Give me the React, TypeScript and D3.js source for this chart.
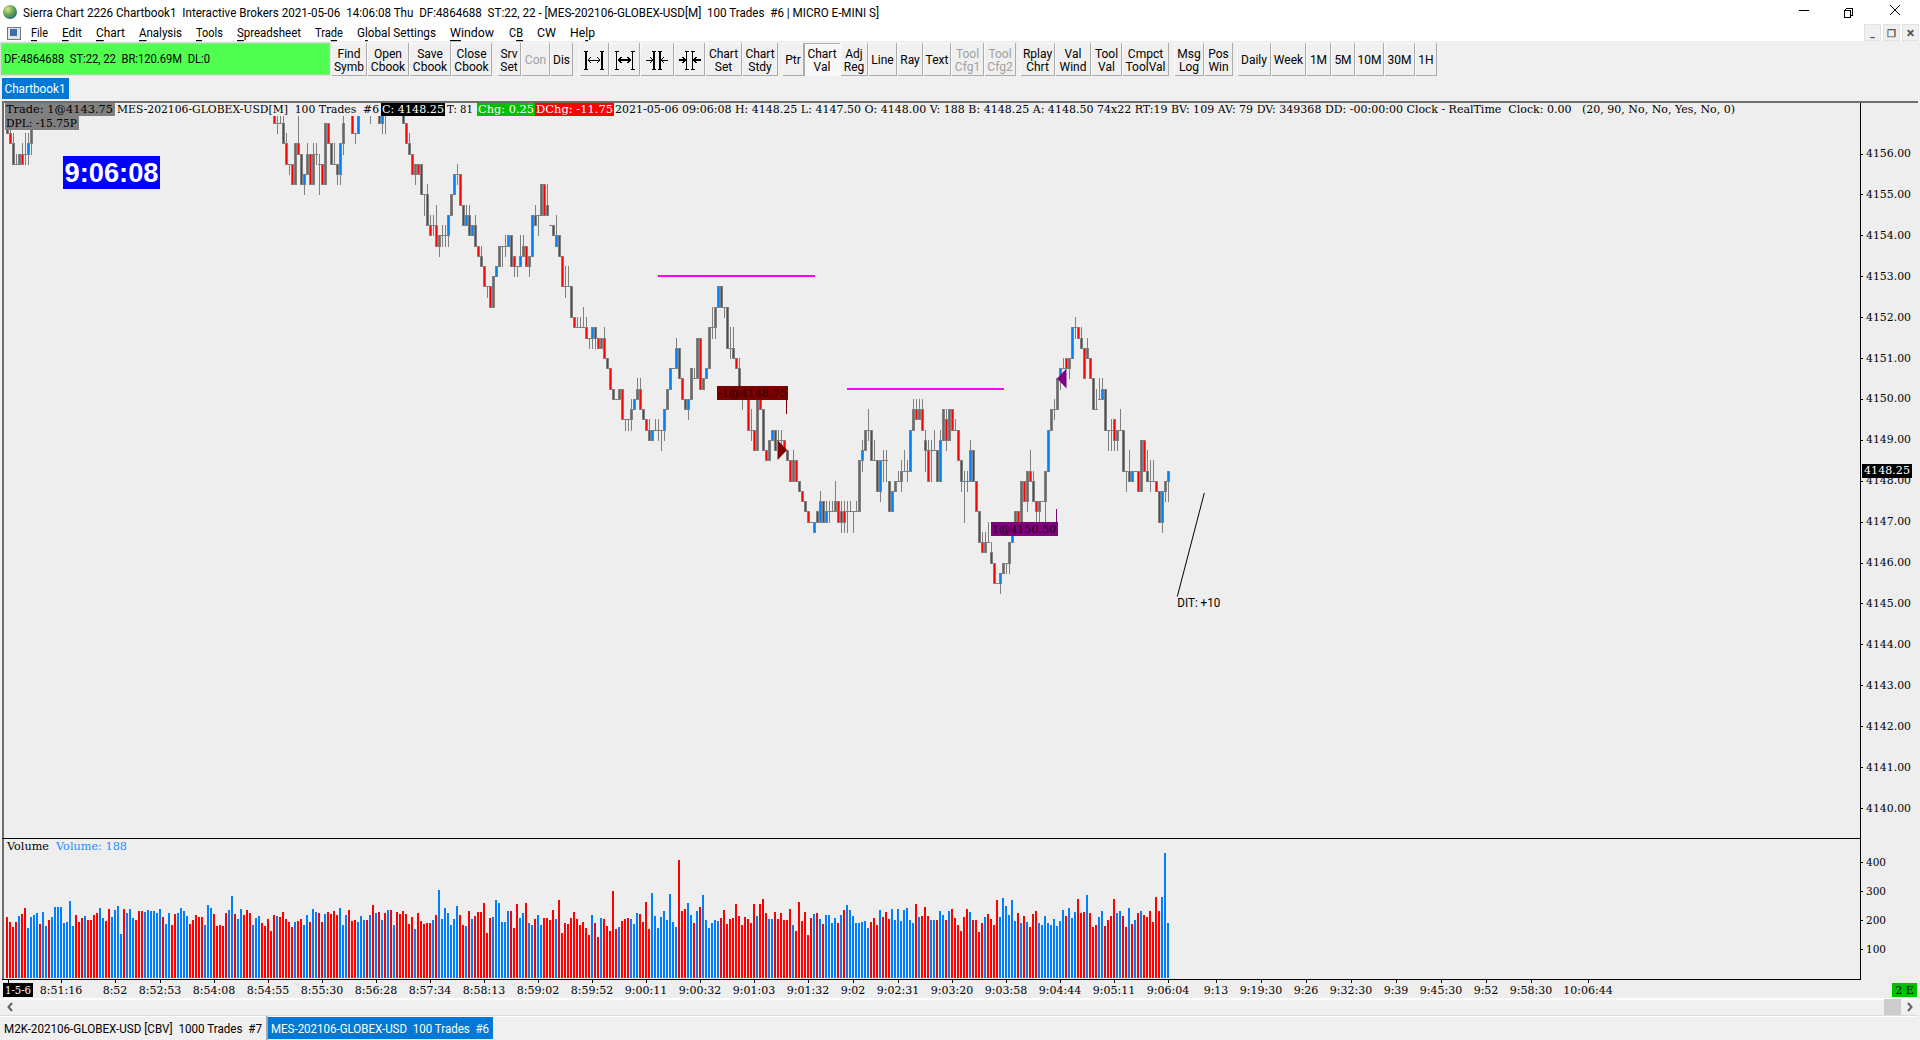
import React from "react";
import * as d3 from "d3";

// ---------- values ----------
const priceLabels = [4156, 4155, 4154, 4153, 4152, 4151, 4150, 4149, 4148, 4147, 4146, 4145, 4144, 4143, 4142, 4141, 4140];
const volumeLabels = [400, 300, 200, 100];
const lastPrice = 4148.25;

// Prices are stored as ticks of 0.25 below 4156.00. Rows: open, high, low, close
const REF_PRICE = 4156;
const TICK = 0.25;
const earlyBars: number[][] = [
  [-3,-4,-2,-2],[-2,-3,-1,-1],[-1,-2,1,1],[1,0,1,1],[1,0,1,0],[0,-1,1,1],[0,-2,1,0],[0,-2,1,-1],[-1,-2,0,-3],
];
const laterBarsStart = 89;
const laterBars: number[][] = [
  [-5,-7,-3,-3],[-3,-5,-2,-3],[-3,-4,-3,-3],[-3,-5,-1,-1],[-1,-2,1,1],[1,1,2,1],[1,1,3,3],[3,3,3,-1],[-1,-4,0,0],[0,0,3,3],
  [3,2,4,2],[2,-1,2,0],[0,0,3,3],[3,-1,3,0],[0,-1,1,0],[1,0,4,1],[1,1,3,3],[3,3,3,-3],[-3,-3,-1,-1],[-1,-1,1,1],
  [1,-1,1,1],[1,1,3,2],[2,2,3,-1],[-1,-4,0,-3],[-7,-8,-6,-7],[-7,-8,-6,-6],[-5,-6,-2,-2],[-2,-2,-1,-2],[-2,-2,-2,-5],[-7,-8,-6,-7],
  [-7,-8,-6,-7],[-7,-8,-6,-7],[-6,-7,-3,-6],[-7,-8,-6,-7],[-7,-8,-6,-7],[-5,-7,-3,-3],[-3,-3,-2,-5],[-5,-6,-2,-5],[-7,-8,-6,-7],[-7,-8,-6,-7],
  [-7,-8,-6,-7],[-7,-8,-6,-7],[-7,-8,-6,-7],[-5,-6,-3,-3],[-3,-3,-1,-1],[-1,-2,0,0],[0,0,2,2],[2,2,3,1],[1,1,2,2],[1,1,4,4],
  [4,4,6,4],[4,3,7,7],[7,6,8,8],[7,6,8,7],[7,5,9,9],[9,8,10,8],[8,7,9,8],[8,7,9,8],[8,6,9,6],[6,4,6,4],
  [4,2,4,2],[2,1,3,2],[2,2,5,5],[5,5,7,7],[7,5,7,6],[6,5,8,8],[8,7,8,7],[7,6,9,9],[9,9,10,10],[10,9,11,11],
  [11,11,13,13],[13,13,14,13],[13,13,15,15],[15,12,15,12],[12,11,12,11],[11,9,11,9],[9,9,11,9],[9,8,10,9],[9,8,9,8],[8,8,11,11],
  [10,10,12,11],[11,11,12,11],[11,8,11,10],[10,8,10,9],[9,9,11,11],[11,10,12,10],[10,6,10,6],[6,5,7,7],[6,6,8,6],[6,3,6,3],
  [3,3,6,6],[5,3,6,6],[7,7,7,7],[7,7,8,8],[9,6,9,8],[8,8,10,10],[10,10,13,13],[13,11,14,13],[13,11,13,13],[13,13,16,16],
  [16,16,17,17],[17,16,17,17],[17,16,17,17],[17,15,17,17],[17,16,18,18],[18,18,19,18],[18,17,19,17],[17,17,19,18],[18,18,19,19],[19,19,19,18],
  [18,17,20,20],[20,20,21,21],[21,21,23,23],[23,23,24,24],[24,24,24,24],[24,24,24,23],[23,23,26,26],[26,26,27,26],[26,26,27,26],[26,24,27,25],
  [25,24,25,24],[24,22,24,23],[23,22,25,25],[25,25,26,26],[26,26,27,27],[27,26,28,28],[28,27,28,27],[27,26,27,27],[27,26,28,27],[27,27,29,27],
  [27,27,28,25],[25,25,25,23],[23,23,23,21],[21,21,21,21],[21,18,21,19],[19,19,22,22],[22,22,24,24],[24,24,25,25],[25,25,26,24],[24,24,24,21],
  [22,21,22,22],[22,18,22,18],[18,18,23,23],[23,23,23,22],[22,22,22,21],[21,21,21,17],[17,15,18,17],[17,15,18,15],[15,13,15,13],[13,13,15,15],
  [15,15,16,15],[15,15,19,19],[19,17,20,19],[19,17,20,20],[20,20,21,21],[21,20,23,23],[23,23,25,23],[23,23,24,24],[24,24,27,27],[27,25,28,27],
  [27,27,29,29],[29,23,29,24],[24,23,25,25],[25,25,29,29],[29,29,30,30],[30,28,30,28],[28,27,28,27],[27,27,29,29],[28,27,28,28],[28,27,29,28],
  [28,28,29,29],[29,29,30,30],[30,30,32,32],[32,29,32,30],[30,30,32,32],[32,32,33,33],[33,33,34,34],[34,34,35,35],[35,35,36,36],[36,36,36,36],
  [37,36,37,36],[35,35,36,36],[36,33,36,34],[34,34,36,36],[36,34,36,35],[35,34,36,35],[35,34,35,35],[35,32,35,34],[34,34,36,36],[35,34,37,36],
  [35,34,37,36],[35,34,37,35],[35,34,35,35],[35,35,37,35],[35,34,35,35],[35,30,35,30],[30,28,31,29],[29,27,29,27],[27,25,28,27],[27,27,30,30],
  [30,28,30,30],[30,30,33,33],[33,30,34,30],[30,29,32,30],[30,29,32,30],[32,32,35,35],[35,35,35,33],[33,32,33,32],[32,31,32,32],[32,30,33,31],
  [31,29,31,31],[31,30,32,31],[31,31,31,27],[27,24,27,25],[25,24,26,26],[26,24,26,25],[25,24,27,27],[28,27,31,29],[29,28,32,32],[29,28,32,29],
  [29,27,29,29],[29,29,32,32],[32,27,32,28],[28,28,28,25],[26,25,29,28],[28,25,28,25],[25,25,27,27],[27,26,27,27],[27,27,30,30],[30,30,33,32],
  [32,31,36,32],[32,31,33,32],[32,28,32,29],[29,29,32,32],[32,32,35,35],[35,35,38,38],[38,37,39,39],[39,37,39,38],[38,36,38,38],[39,38,40,40],
  [40,40,42,42],[42,42,42,42],[42,42,43,41],[41,40,41,40],[40,40,41,40],[40,38,41,38],[38,36,38,36],[36,35,37,35],[35,35,37,37],[37,34,37,32],
  [32,32,34,34],[34,31,35,31],[31,29,32,32],[32,31,34,34],[34,34,36,35],[35,34,36,34],[34,34,34,34],[34,31,36,31],[31,31,31,27],[27,27,27,25],
  [25,24,26,25],[25,25,25,22],[22,22,23,21],[21,20,21,21],[20,20,21,21],[21,20,22,20],[20,20,20,17],[17,16,18,17],[17,17,18,18],[18,17,19,19],
  [19,19,22,22],[20,18,20,19],[20,20,22,22],[22,22,25,25],[25,23,25,25],[24,22,24,24],[24,22,24,23],[23,23,27,27],[27,27,29,27],[27,26,29,27],
  [26,26,29,28],[28,28,29,27],[27,25,27,27],[27,27,31,31],[31,31,33,31],[31,29,32,32],[32,31,32,31],[31,31,31,31],[31,31,33,33],[33,28,33,28],
  [28,28,31,31],[31,29,32,32],[32,30,33,32],[32,30,32,32],[32,32,33,33],[33,33,36,36],[36,33,37,33],[33,32,34,32],[32,31,34,31],
];

const volumes = [
  210,193,176,193,214,221,241,172,210,217, 224,186,228,179,200,210,245,245,245,190,
  193,266,179,217,193,207,214,200,200,217, 224,241,207,197,238,210,234,248,152,238,
  224,238,207,200,231,231,228,234,231,231, 224,238,210,186,224,183,221,224,241,231,
  214,186,200,217,210,210,183,252,241,221, 179,183,179,224,234,283,221,203,238,217,
  234,224,183,207,214,190,179,203,162,217, 214,210,228,203,193,176,193,197,203,183,
  217,193,238,228,224,193,221,228,221,231, 217,241,183,217,234,197,200,193,214,200,
  200,217,252,224,228,200,224,234,234,183, 228,221,231,221,186,210,169,224,197,186,
  190,190,200,217,303,203,241,224,183,203, 248,217,183,179,231,203,214,228,228,259,
  155,207,210,269,259,193,193,231,231,172, 255,207,224,259,190,183,203,217,183,207,
  207,200,234,203,269,155,190,186,207,228, 203,183,193,172,148,217,190,141,207,203,
  179,162,300,169,176,197,203,207,203,186, 224,221,193,262,169,293,214,172,210,231,
  200,290,193,176,407,231,238,259,217,190, 231,245,286,200,172,190,200,197,207,234,
  186,203,207,255,214,183,210,203,190,255, 214,255,272,224,203,203,228,203,224,200,
  200,238,183,162,262,197,228,148,207,221, 224,203,186,217,217,190,207,190,217,234,
  252,234,214,190,190,193,197,172,193,207, 183,234,210,228,203,238,200,238,197,234,
  241,200,190,255,210,214,245,214,200,200, 200,231,217,200,231,238,207,183,162,210,
  238,228,200,200,159,190,210,221,203,183, 269,210,276,248,217,269,197,224,190,214,
  193,176,221,231,190,183,214,190,183,203, 179,197,234,214,241,207,228,272,224,228,
  286,224,176,183,210,231,179,200,214,272, 224,231,214,176,241,186,200,224,231,217,
  210,231,193,279,231,279,431,188,
];
const volumeSides = [
  "rrrrbrrbbb","brbbrbbbbb","bbbrrrbrrr","rbbrrbbbbr","bbbrrrbbbb","bbrbbrrbbb","brrrrrbbbr","rrrrbbrbbr",
  "rrbbbrrrrr","brrrrrbrrb","brbbrrbrrr","rbbbrrrbbb","rbrbrbrbrb","rrrrrrbrrr","rrbrbbbbbb","brrbrbrrrr",
  "rrbbbbbbrr","rbbrbbrbbr","rrrbrrrrrr","rrrrrbrrbr","rrrrbrrrbb","brrrrbbbbb","bbbbrrrbbr","brbbbbbbrr",
  "rrrrrrrrrr","brrrbbrrrr","rrbrrrrrrb","rbrbbbbrbr","bbbbbbbbrr","rbrrrbbbbb","bbbrbrrrbb","rbbrbrrrrr",
  "rbrrrrbrrr","rbbbbbbrbr","brrrbbbbbb","bbbrbbbrrr","brrrbbrrrr","bbrrbrbrbr","rrrrrbbb",
].join("");

const timeTickBars = [18,36,51,69,87,105,123,141,159,177,195,213,231,249,267,282,297,315,333,351,369,387,403,418,433,448,463,478,493,508,527];
const timeTickLabels = ["8:51:16","8:52","8:52:53","8:54:08","8:54:55","8:55:30","8:56:28","8:57:34","8:58:13","8:59:02","8:59:52","9:00:11","9:00:32","9:01:03","9:01:32","9:02","9:02:31","9:03:20","9:03:58","9:04:44","9:05:11","9:06:04","9:13","9:19:30","9:26","9:32:30","9:39","9:45:30","9:52","9:58:30","10:06:44"];

// Drawn levels and tools: [start bar, end bar, price]
const levelLines = [[217, 269.3, 4153], [280, 332.3, 4150.25]];
const trendBars = [399.1, 390.1];
const trendPrices = [4147.7, 4145.17];
// Fills: bar, price
const sellFill = { bar: 260, price: 4148.75 };
const buyFill = { bar: 350, price: 4150.5 };

const menuItems: [string, string, string, number, number][] = [
  ["", "F", "ile", 31, 17], ["", "E", "dit", 62, 20], ["", "C", "hart", 96, 29], ["", "A", "nalysis", 139, 43],
  ["", "T", "ools", 196, 27], ["", "S", "preadsheet", 237, 64], ["Tra", "d", "e", 315, 28], ["G", "l", "obal Settings", 357, 79],
  ["", "W", "indow", 450, 44], ["C", "B", "", 509, 14], ["CW", "", "", 537, 19], ["He", "l", "p", 570, 25],
];
const toolbarButtons: [string, string, number, number, number][] = [
  ["Find", "Symb", 331, 367, 0], ["Open", "Cbook", 367, 409, 0], ["Save", "Cbook", 409, 451, 0], ["Close", "Cbook", 451, 492, 0],
  ["Srv", "Set", 497, 521, 0], ["Con", "", 521, 550, 1], ["Dis", "", 550, 573, 0],
  ["", "", 579, 609, 0], ["", "", 609, 640, 0], ["", "", 640, 674, 0], ["", "", 674, 705, 0],
  ["Chart", "Set", 705, 742, 0], ["Chart", "Stdy", 742, 778, 0], ["Ptr", "", 782, 804, 0], ["Chart", "Val", 804, 840, 2],
  ["Adj", "Reg", 840, 868, 0], ["Line", "", 868, 897, 0], ["Ray", "", 897, 923, 0], ["Text", "", 923, 951, 0],
  ["Tool", "Cfg1", 951, 984, 1], ["Tool", "Cfg2", 984, 1016, 1], ["Rplay", "Chrt", 1020, 1055, 0], ["Val", "Wind", 1055, 1091, 0],
  ["Tool", "Val", 1091, 1122, 0], ["Cmpct", "ToolVal", 1122, 1169, 0], ["Msg", "Log", 1174, 1204, 0], ["Pos", "Win", 1204, 1233, 0],
  ["Daily", "", 1237, 1271, 0], ["Week", "", 1271, 1306, 0], ["1M", "", 1306, 1331, 0], ["5M", "", 1331, 1355, 0],
  ["10M", "", 1355, 1384, 0], ["30M", "", 1384, 1415, 0], ["1H", "", 1415, 1437, 0],
];

// ---------- styling ----------
const UI = "Roboto, 'Noto Sans', sans-serif";
const SERIF = "'DejaVu Serif', serif";
const GRAY = "#808080";
const BLUE = "#0080FF";
const RED = "#FF0000";
const BG = "#EEEEEE";

const x = d3.scaleLinear().domain([0, 100]).range([7, 307]);
const y = d3.scaleLinear().domain([4156, 4140]).range([153.5, 808]);
const yVol = d3.scaleLinear().domain([0, 400]).range([978, 862]);
const fmt = d3.format(".2f");
const priceOf = (t: number) => REF_PRICE - t * TICK;

type TProps = { x: number; y: number; w?: number; s: string; fill?: string; size?: number; font?: string; anchor?: string; weight?: number };
const T = ({ x: tx, y: ty, w, s, fill = "#000", size = 12, font = UI, anchor = "start", weight = 400 }: TProps) => (
  <text x={tx} y={ty} fill={fill} fontFamily={font} fontSize={size} fontWeight={weight} textAnchor={anchor as any}
    dominantBaseline="central" style={{ whiteSpace: "pre" }}
    {...(w ? { textLength: w, lengthAdjust: "spacingAndGlyphs" } : {})}>{s}</text>
);

const Candle = ({ i, row }: { i: number; row: number[] }) => {
  const [o, h, l, c] = row.map((t) => Math.round(y(priceOf(t))));
  const col = Math.round(x(i));
  const top = Math.min(o, c);
  const bot = Math.max(o, c);
  const up = c < o;
  return (
    <g>
      <rect x={col} y={h} width={1} height={l - h + 1} fill={GRAY} />
      <rect x={col - 1} y={top} width={3} height={bot - top + 1} fill={GRAY} />
      {bot > top && <rect x={col} y={top + 1} width={1} height={bot - top - 1} fill={up ? BLUE : RED} />}
    </g>
  );
};

const ZoomIcon = ({ x0, x1, kind }: { x0: number; x1: number; kind: number }) => {
  const cx = (x0 + x1) / 2;
  const cy = 60;
  const a = kind < 2 ? 8 : 3;
  const heavy = kind % 2 === 1;
  return (
    <g stroke="#000" strokeWidth={1} fill="none" shapeRendering="crispEdges">
      <path d={`M${cx - a} ${cy - 9}V${cy + 9}M${cx + a} ${cy - 9}V${cy + 9}`} strokeWidth={1.5} />
      <path d={`M${cx - a - 2} ${cy - 9}h4M${cx - a - 2} ${cy + 9}h4M${cx + a - 2} ${cy - 9}h4M${cx + a - 2} ${cy + 9}h4`} />
      {kind < 2 ? (
        <path d={`M${cx - a + 2} ${cy}H${cx + a - 2}M${cx - a + 5} ${cy - 3}l-3 3l3 3M${cx + a - 5} ${cy - 3}l3 3l-3 3`} strokeWidth={heavy ? 2 : 1} />
      ) : (
        <path d={`M${cx - 11} ${cy}H${cx - a - 1}M${cx + 11} ${cy}H${cx + a + 1}M${cx - a - 4} ${cy - 3}l3 3l-3 3M${cx + a + 4} ${cy - 3}l-3 3l3 3`} strokeWidth={heavy ? 2 : 1} />
      )}
    </g>
  );
};

export default function App() {
  const candles = [
    ...earlyBars.map((row, k) => ({ i: k, row })),
    ...laterBars.map((row, k) => ({ i: laterBarsStart + k, row })),
  ];
  const sellY = y(sellFill.price);
  const buyY = y(buyFill.price);
  const sellX = x(sellFill.bar);
  const buyX = x(buyFill.bar);
  const headerLeft = "2021-05-06 09:06:08 H: 4148.25 L: 4147.50 O: 4148.00 V: 188 B: 4148.25 A: 4148.50 74x22 RT:19 BV: 109 AV: 79 DV: 349368 DD: -00:00:00 Clock - RealTime  Clock: 0.00   (20, 90, No, No, Yes, No, 0)";
  return (
    <svg width={1920} height={1040} viewBox="0 0 1920 1040" style={{ position: "absolute", left: 0, top: 0, display: "block" }}>
      <defs>
        <clipPath id="priceClip"><rect x={3} y={116} width={1857} height={722} /></clipPath>
        <radialGradient id="globe" cx="0.35" cy="0.3" r="0.8">
          <stop offset="0" stopColor="#D8E89A" />
          <stop offset="0.5" stopColor="#6AA84A" />
          <stop offset="1" stopColor="#1F5E8C" />
        </radialGradient>
      </defs>

      {/* window chrome */}
      <rect width={1920} height={1040} fill="#F0F0F0" />
      <rect width={1920} height={41} fill="#FFFFFF" />
      <circle cx={10} cy={12} r={7} fill="url(#globe)" />
      <T x={23} y={12.5} w={856} s="Sierra Chart 2226 Chartbook1  Interactive Brokers 2021-05-06  14:06:08 Thu  DF:4864688  ST:22, 22 - [MES-202106-GLOBEX-USD[M]  100 Trades  #6 | MICRO E-MINI S]" />
      <g stroke="#000" fill="none" shapeRendering="crispEdges">
        <path d="M1799 10.5H1809" />
        <path d="M1845.5 8.5h7v7h-2M1845.5 8.5v2M1844.5 10.5h6v7h-6z" fill="#fff" />
      </g>
      <path d="M1890 5L1900 15M1900 5L1890 15" stroke="#000" />
      {[1864, 1883, 1902].map((bx, k) => (
        <g key={bx}>
          <rect x={bx + 0.5} y={24.5} width={16} height={16} fill="#F0F0F0" stroke="#E2E2E2" />
          <T x={bx + 8.5} y={33} s={["_", "\u2750", "\u00D7"][k]} size={k === 2 ? 15 : 10} anchor="middle" fill="#555" weight={700} />
        </g>
      ))}
      <g shapeRendering="crispEdges">
        <rect x={7} y={27} width={13} height={12} fill="#E4E4E4" stroke="#777" />
        <rect x={10} y={29} width={7} height={7} fill="#3A6FA8" />
      </g>
      {menuItems.map(([pre, und, post, mx, mw]) => (
        <text key={mx} x={mx} y={33} fontFamily={UI} fontSize={12} dominantBaseline="central" textLength={mw} lengthAdjust="spacingAndGlyphs">
          {pre}<tspan textDecoration="underline">{und}</tspan>{post}
        </text>
      ))}

      {/* toolbar */}
      <rect x={1} y={43} width={329} height={32} fill="#50FF50" stroke="#C8C8C8" />
      <T x={4} y={59} w={206} s="DF:4864688  ST:22, 22  BR:120.69M  DL:0" />
      {toolbarButtons.map(([a, b, x0, x1, state]) => {
        const fg = state === 1 ? "#A0A0A0" : "#000";
        const cx = (x0 + x1) / 2;
        return (
          <g key={x0}>
            <rect x={x0 + 0.5} y={43.5} width={x1 - x0 - 1} height={32} fill={state === 2 ? "#F8F8F8" : "#F0F0F0"} stroke="#FAFAFA" shapeRendering="crispEdges" />
            <path d={state === 2 ? `M${x0 + 0.5} 76V43.5H${x1}` : `M${x0 + 0.5} 75.5H${x1 - 0.5}V43`} stroke="#ABABAB" fill="none" shapeRendering="crispEdges" />
            {b ? (
              <>
                <T x={cx} y={54} s={a} anchor="middle" fill={fg} />
                <T x={cx} y={67} s={b} anchor="middle" fill={fg} />
              </>
            ) : a ? (
              <T x={cx} y={60} s={a} anchor="middle" fill={fg} />
            ) : null}
          </g>
        );
      })}
      {[579, 609, 640, 674].map((x0, k) => (
        <ZoomIcon key={x0} x0={x0} x1={[609, 640, 674, 705][k]} kind={k} />
      ))}
      <rect x={2} y={78} width={67} height={21} fill="#0078D7" />
      <T x={4.5} y={88.5} w={61} s="Chartbook1" fill="#fff" />

      {/* chart panels */}
      <rect x={2} y={101} width={1916} height={898} fill={BG} />

      <g clipPath="url(#priceClip)" shapeRendering="crispEdges">
        {candles.map(({ i, row }) => <Candle key={i} i={i} row={row} />)}
      </g>

      {/* drawn levels */}
      <g shapeRendering="crispEdges">
        {levelLines.map(([a, b, p]) => (
          <rect key={a} x={x(a)} y={Math.round(y(p)) - 1} width={x(b) - x(a)} height={2} fill="#FF00FF" />
        ))}
      </g>
      <path d={d3.line<number>().x((b) => x(b)).y((_, k) => y(trendPrices[k]))(trendBars) ?? ""} stroke="#000" strokeWidth={1} fill="none" />
      <T x={x(trendBars[1])} y={603} w={43} s="DIT: +10" size={12} />

      {/* fills */}
      <g shapeRendering="crispEdges">
        <rect x={717} y={386} width={71} height={14} fill="#7B0000" />
        <rect x={786} y={400} width={1} height={14} fill="#7B0000" />
        <rect x={991} y={522} width={67} height={14} fill="#800080" />
        <rect x={1056} y={509} width={1} height={13} fill="#800080" />
      </g>
      <T x={718} y={393} w={69} s="-1@4148.75" size={11} font={SERIF} fill="#1a0000" />
      <T x={992} y={529} w={64} s="1@4150.50" size={11} font={SERIF} fill="#1a001a" />
      <path d={`M${sellX} ${sellY}L${sellX - 9.5} ${sellY - 10}V${sellY + 10}Z`} fill="#800000" />
      <path d={`M${buyX} ${buyY}L${buyX + 9.5} ${buyY - 10}V${buyY + 10}Z`} fill="#800080" />

      {/* header line */}
      <g shapeRendering="crispEdges">
        <rect x={5} y={102} width={110} height={14} fill={GRAY} />
        <rect x={5} y={116} width={74} height={14} fill={GRAY} />
        <rect x={381} y={102} width={64} height={14} fill="#000" />
        <rect x={477} y={102} width={58} height={14} fill="#00C000" />
        <rect x={535} y={102} width={78.5} height={14} fill={RED} />
        <rect x={63} y={156} width={97} height={33} fill="#0000FF" />
      </g>
      <T x={6} y={109} w={107} s="Trade: 1@4143.75" size={11} font={SERIF} />
      <T x={6} y={123} w={71} s="DPL: -15.75P" size={11} font={SERIF} />
      <T x={117} y={109} w={262} s="MES-202106-GLOBEX-USD[M]  100 Trades  #6" size={11} font={SERIF} />
      <T x={382} y={109} w={62} s="C: 4148.25" size={11} font={SERIF} fill="#fff" />
      <T x={447} y={109} w={26} s="T: 81" size={11} font={SERIF} />
      <T x={478} y={109} w={56} s="Chg: 0.25" size={11} font={SERIF} fill="#fff" />
      <T x={536} y={109} w={77} s="DChg: -11.75" size={11} font={SERIF} fill="#fff" />
      <T x={615} y={109} w={1120} s={headerLeft} size={11} font={SERIF} />
      <T x={111.5} y={172.5} w={94} s="9:06:08" size={27} font="'Liberation Sans', Arial, sans-serif" fill="#fff" weight={700} anchor="middle" />

      {/* volume panel */}
      <g shapeRendering="crispEdges">
        {volumes.map((v, i) => (
          <rect key={i} x={Math.round(x(i)) - 1} y={Math.round(yVol(v))} width={2} height={978 - Math.round(yVol(v))} fill={volumeSides[i] === "b" ? BLUE : RED} />
        ))}
      </g>
      <T x={7} y={846} w={42} s="Volume" size={11} font={SERIF} />
      <T x={56} y={846} w={71} s="Volume: 188" size={11} font={SERIF} fill="#1E8CFF" />

      {/* frame */}
      <g shapeRendering="crispEdges">
        <rect x={2} y={101} width={1916} height={2} fill="#6E6E6E" />
        <rect x={2} y={101} width={2} height={878} fill="#6E6E6E" />
        <rect x={2} y={838} width={1859} height={1} fill="#000" />
        <rect x={2} y={979} width={1859} height={1} fill="#000" />
        <rect x={1860} y={103} width={1} height={877} fill="#000" />
      </g>

      {/* price axis */}
      {priceLabels.map((p) => (
        <g key={p}>
          <rect x={1860} y={Math.round(y(p))} width={3} height={1} fill="#000" shapeRendering="crispEdges" />
          <T x={1866} y={y(p)} w={45} s={fmt(p)} size={11} font={SERIF} />
        </g>
      ))}
      <rect x={1862} y={464} width={50} height={14} fill="#000" shapeRendering="crispEdges" />
      <T x={1864} y={y(lastPrice) - 0.5} w={46} s={fmt(lastPrice)} size={11} font={SERIF} fill="#fff" />

      {/* volume axis */}
      {volumeLabels.map((v) => (
        <g key={v}>
          <rect x={1860} y={Math.round(yVol(v))} width={3} height={1} fill="#000" shapeRendering="crispEdges" />
          <T x={1866} y={yVol(v)} w={20} s={String(v)} size={11} font={SERIF} />
        </g>
      ))}

      {/* time axis */}
      {timeTickBars.map((b, k) => (
        <g key={b}>
          <rect x={Math.round(x(b))} y={980} width={1} height={3} fill="#000" shapeRendering="crispEdges" />
          <T x={x(b)} y={990} s={timeTickLabels[k]} size={11} font={SERIF} anchor="middle" />
        </g>
      ))}
      <rect x={8} y={980} width={1} height={3} fill="#000" shapeRendering="crispEdges" />
      <rect x={3} y={983} width={30} height={14} fill="#000" shapeRendering="crispEdges" />
      <T x={5} y={990} w={26} s="1-5-6" size={11} font={SERIF} fill="#fff" />
      <rect x={1892} y={983} width={25} height={14} fill="#00C000" shapeRendering="crispEdges" />
      <T x={1904.5} y={990} s="2 E" size={11} font={SERIF} anchor="middle" />

      {/* scrollbar */}
      <g shapeRendering="crispEdges">
        <rect x={0} y={998} width={1918} height={2} fill="#FFFFFF" />
        <rect x={0} y={1000} width={1918} height={15} fill="#F0F0F0" />
        <rect x={0} y={1015} width={1918} height={1} fill="#DCDCDC" />
        <rect x={0} y={1016} width={1918} height={1} fill="#FFFFFF" />
        <rect x={1884} y={999} width={17} height={16} fill="#CDCDCD" />
      </g>
      <path d="M12 1003L8.5 1007L12 1011" stroke="#606060" strokeWidth={2} fill="none" />
      <path d="M1908 1003L1911.5 1007L1908 1011" stroke="#606060" strokeWidth={2} fill="none" />

      {/* chart tabs */}
      <g shapeRendering="crispEdges">
        <rect x={0} y={1017} width={266} height={23} fill="#F0F0F0" />
        <rect x={266} y={1016} width={2} height={24} fill="#A8A8A8" />
        <rect x={268} y={1017} width={225} height={22} fill="#0078D7" />
      </g>
      <T x={4} y={1029} w={258} s="M2K-202106-GLOBEX-USD [CBV]  1000 Trades  #7" />
      <T x={271} y={1029} w={218} s="MES-202106-GLOBEX-USD  100 Trades  #6" fill="#fff" />
    </svg>
  );
}
